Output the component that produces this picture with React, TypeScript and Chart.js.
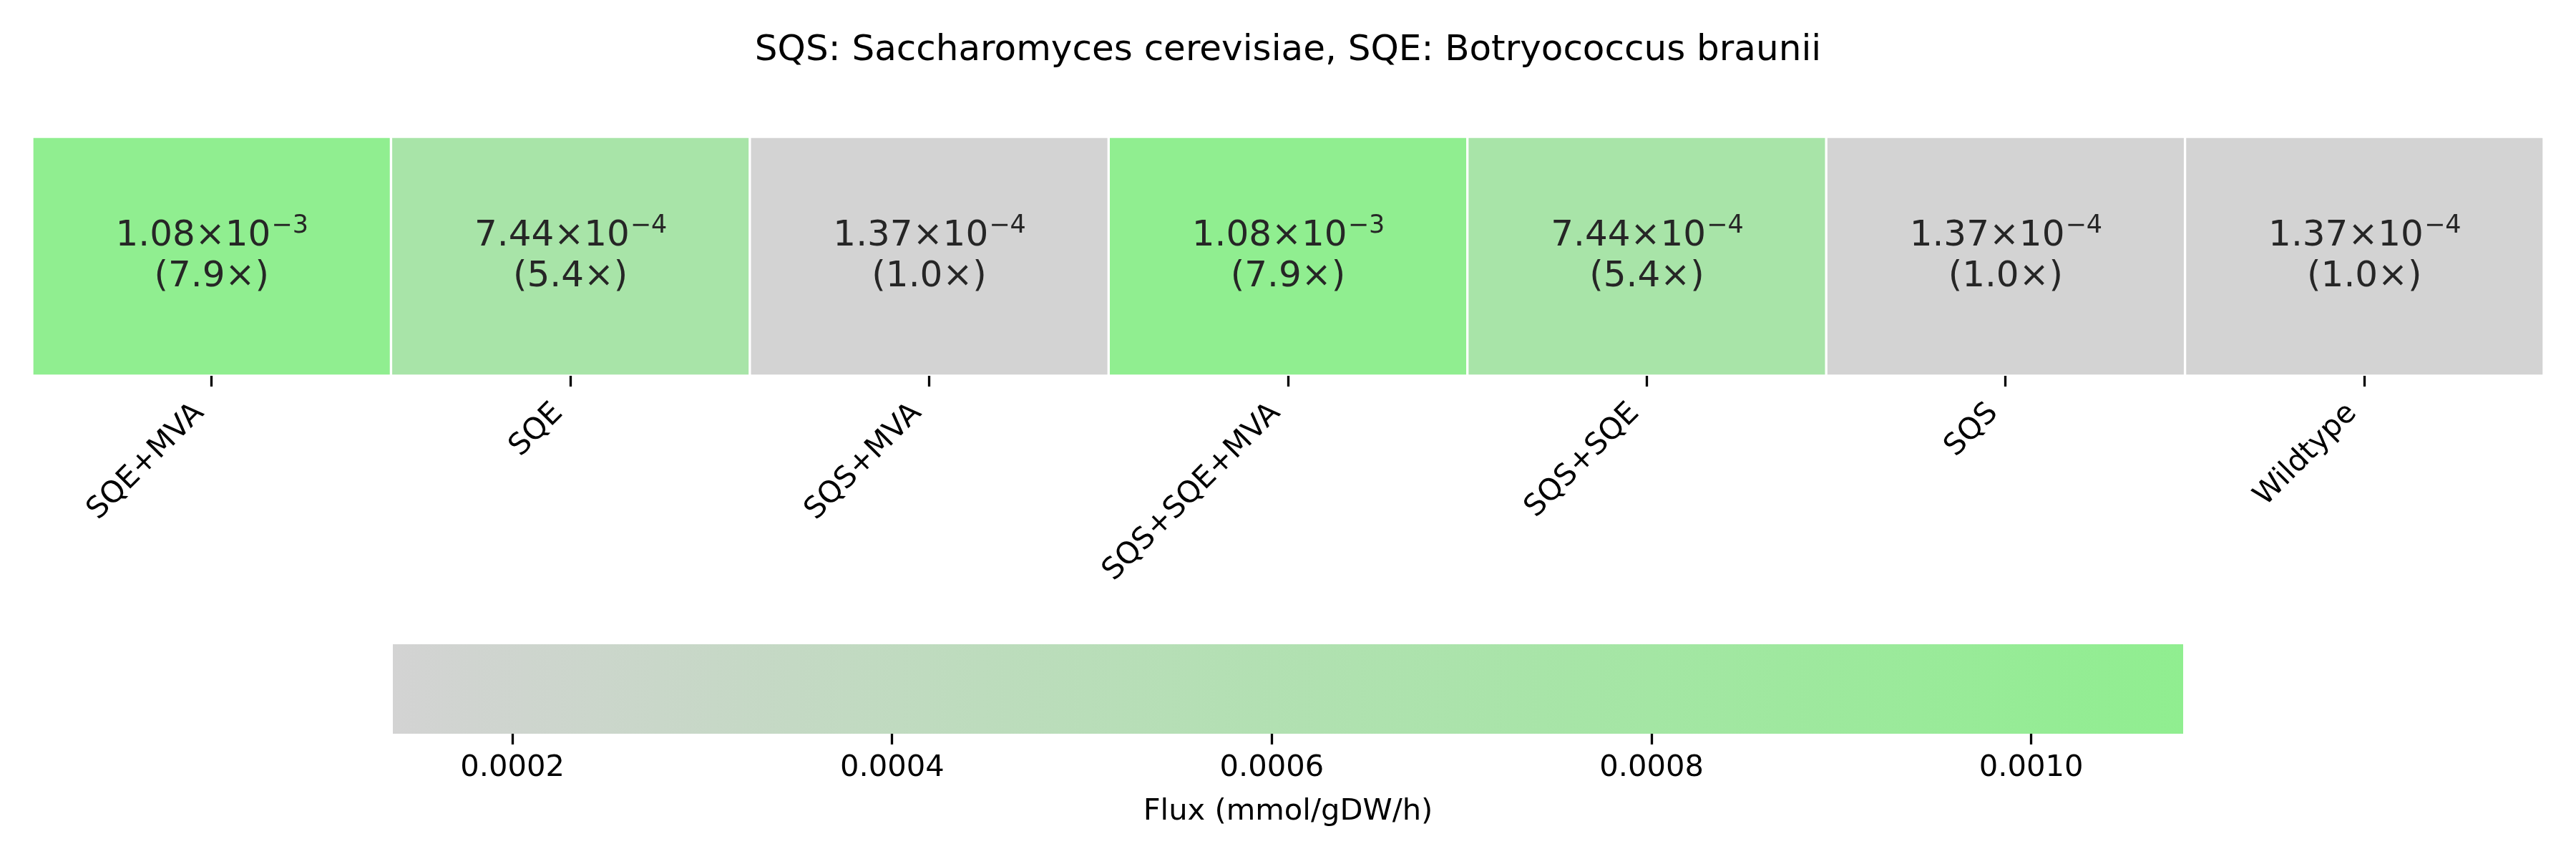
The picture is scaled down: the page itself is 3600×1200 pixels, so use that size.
import React, { useEffect, useRef } from 'react';
import { Chart, registerables } from 'chart.js';

Chart.register(...registerables);

// ---- data ----
const strains = ['SQE+MVA', 'SQE', 'SQS+MVA', 'SQS+SQE+MVA', 'SQS+SQE', 'SQS', 'Wildtype'];
const fluxValues = [1.08e-3, 7.44e-4, 1.37e-4, 1.08e-3, 7.44e-4, 1.37e-4, 1.37e-4];
const foldChanges = [7.9, 5.4, 1.0, 7.9, 5.4, 1.0, 1.0];
const colorbarTicks = [0.0002, 0.0004, 0.0006, 0.0008, 0.001];
const colorbarTickLabels = ['0.0002', '0.0004', '0.0006', '0.0008', '0.0010'];
const titleText = 'SQS: Saccharomyces cerevisiae, SQE: Botryococcus braunii';
const colorbarLabel = 'Flux (mmol/gDW/h)';
const lowColor = [211, 211, 211]; // lightgray
const highColor = [144, 238, 144]; // lightgreen

const FONT = '"DejaVu Sans", "Liberation Sans", sans-serif';
const fluxMin = Math.min(...fluxValues);
const fluxMax = Math.max(...fluxValues);

function rgbStr(c: number[]) {
  return `rgb(${c[0]}, ${c[1]}, ${c[2]})`;
}
function colorFor(v: number) {
  const t = (v - fluxMin) / (fluxMax - fluxMin);
  return rgbStr(lowColor.map((lo, i) => Math.round(lo + (highColor[i] - lo) * t)));
}

const annotatePlugin = {
  id: 'cellAnnot',
  afterDatasetsDraw(chart: any) {
    const ctx = chart.ctx as CanvasRenderingContext2D;
    const meta = chart.getDatasetMeta(0);
    meta.data.forEach((bar: any, i: number) => {
      const { x, y, base } = bar.getProps(['x', 'y', 'base'], true);
      const cy = (y + base) / 2;
      const v = fluxValues[i];
      const exp = Math.floor(Math.log10(v));
      const mant = (v / Math.pow(10, exp)).toFixed(2);
      const main = `${mant}\u00d710`;
      const sup = exp < 0 ? `\u2212${Math.abs(exp)}` : `${exp}`;
      ctx.save();
      ctx.fillStyle = '#262626';
      ctx.textBaseline = 'alphabetic';
      ctx.textAlign = 'left';
      ctx.font = `50px ${FONT}`;
      const wMain = ctx.measureText(main).width;
      ctx.font = `35px ${FONT}`;
      const wSup = ctx.measureText(sup).width;
      const sx = x - (wMain + wSup) / 2;
      const base1 = cy - 15;
      ctx.font = `50px ${FONT}`;
      ctx.fillText(main, sx, base1);
      ctx.font = `35px ${FONT}`;
      ctx.fillText(sup, sx + wMain + 1, base1 - 18);
      ctx.font = `50px ${FONT}`;
      ctx.textAlign = 'center';
      ctx.fillText(`(${foldChanges[i].toFixed(1)}\u00d7)`, x, cy + 42);
      ctx.restore();
    });
  },
};

const gradientPlugin = {
  id: 'cbGradient',
  beforeDatasetsDraw(chart: any) {
    const ctx = chart.ctx as CanvasRenderingContext2D;
    const { top, bottom } = chart.chartArea;
    const xs = chart.scales.x;
    const x0 = xs.getPixelForValue(fluxMin);
    const x1 = xs.getPixelForValue(fluxMax);
    const g = ctx.createLinearGradient(x0, 0, x1, 0);
    g.addColorStop(0, rgbStr(lowColor));
    g.addColorStop(1, rgbStr(highColor));
    ctx.save();
    ctx.fillStyle = g;
    ctx.fillRect(x0, top, x1 - x0, bottom - top);
    ctx.restore();
  },
};

export default function App() {
  const heatRef = useRef<HTMLCanvasElement>(null);
  const cbRef = useRef<HTMLCanvasElement>(null);

  useEffect(() => {
    const heat = new Chart(heatRef.current as HTMLCanvasElement, {
      type: 'bar',
      data: {
        labels: strains,
        datasets: [
          {
            data: fluxValues.map(() => 1),
            backgroundColor: fluxValues.map(colorFor),
            borderColor: '#ffffff',
            borderWidth: 2,
            borderSkipped: false,
            barPercentage: 1,
            categoryPercentage: 1,
          } as any,
        ],
      },
      options: {
        responsive: false,
        animation: false,
        devicePixelRatio: 1,
        layout: { padding: { left: 45, right: 45, top: 0, bottom: 0 } },
        plugins: {
          legend: { display: false },
          tooltip: { enabled: false },
          title: {
            display: true,
            text: titleText,
            color: '#000000',
            font: { family: FONT, size: 50, weight: 'normal' as any, lineHeight: 1.2 },
            padding: { top: 41, bottom: 90 },
          },
        },
        scales: {
          x: {
            offset: true,
            grid: {
              offset: false,
              drawOnChartArea: false,
              drawTicks: true,
              tickLength: 15,
              tickWidth: 3.3,
              tickColor: '#000000',
            },
            border: { display: false },
            ticks: {
              autoSkip: false,
              minRotation: 45,
              maxRotation: 45,
              padding: 13,
              labelOffset: -17,
              color: '#000000',
              font: { family: FONT, size: 41.67 },
            },
            afterFit: (s: any) => {
              s.height = 335;
            },
          } as any,
          y: { display: false, min: 0, max: 1 },
        },
      },
      plugins: [annotatePlugin],
    });

    const cb = new Chart(cbRef.current as HTMLCanvasElement, {
      type: 'scatter',
      data: { datasets: [{ data: [] }] },
      options: {
        responsive: false,
        animation: false,
        devicePixelRatio: 1,
        layout: { padding: { left: 549, right: 549, top: 40, bottom: 0 } },
        plugins: { legend: { display: false }, tooltip: { enabled: false } },
        scales: {
          x: {
            type: 'linear',
            min: fluxMin,
            max: fluxMax,
            grid: {
              drawOnChartArea: false,
              drawTicks: true,
              tickLength: 15,
              tickWidth: 3.3,
              tickColor: '#000000',
            },
            border: { display: false },
            afterBuildTicks: (s: any) => {
              s.ticks = colorbarTicks.map((v) => ({ value: v }));
            },
            ticks: {
              padding: 8,
              color: '#000000',
              maxRotation: 0,
              font: { family: FONT, size: 41.67 },
              callback: (_v: any, idx: number) => colorbarTickLabels[idx],
            },
            title: {
              display: true,
              text: colorbarLabel,
              color: '#000000',
              font: { family: FONT, size: 41.67, lineHeight: 1.2 },
              padding: { top: 0, bottom: 41 },
            },
            afterFit: (s: any) => {
              s.height = 175;
            },
          } as any,
          y: { display: false, min: 0, max: 1 },
        },
      },
      plugins: [gradientPlugin],
    });

    return () => {
      heat.destroy();
      cb.destroy();
    };
  }, []);

  return (
    <div style={{ position: 'fixed', left: 0, top: 0, width: 3600, height: 1200, background: '#fff' }}>
      <canvas
        ref={heatRef}
        width={3600}
        height={860}
        style={{ position: 'absolute', left: 0, top: 0, width: 3600, height: 860, display: 'block' }}
      />
      <canvas
        ref={cbRef}
        width={3600}
        height={340}
        style={{ position: 'absolute', left: 0, top: 860, width: 3600, height: 340, display: 'block' }}
      />
    </div>
  );
}
